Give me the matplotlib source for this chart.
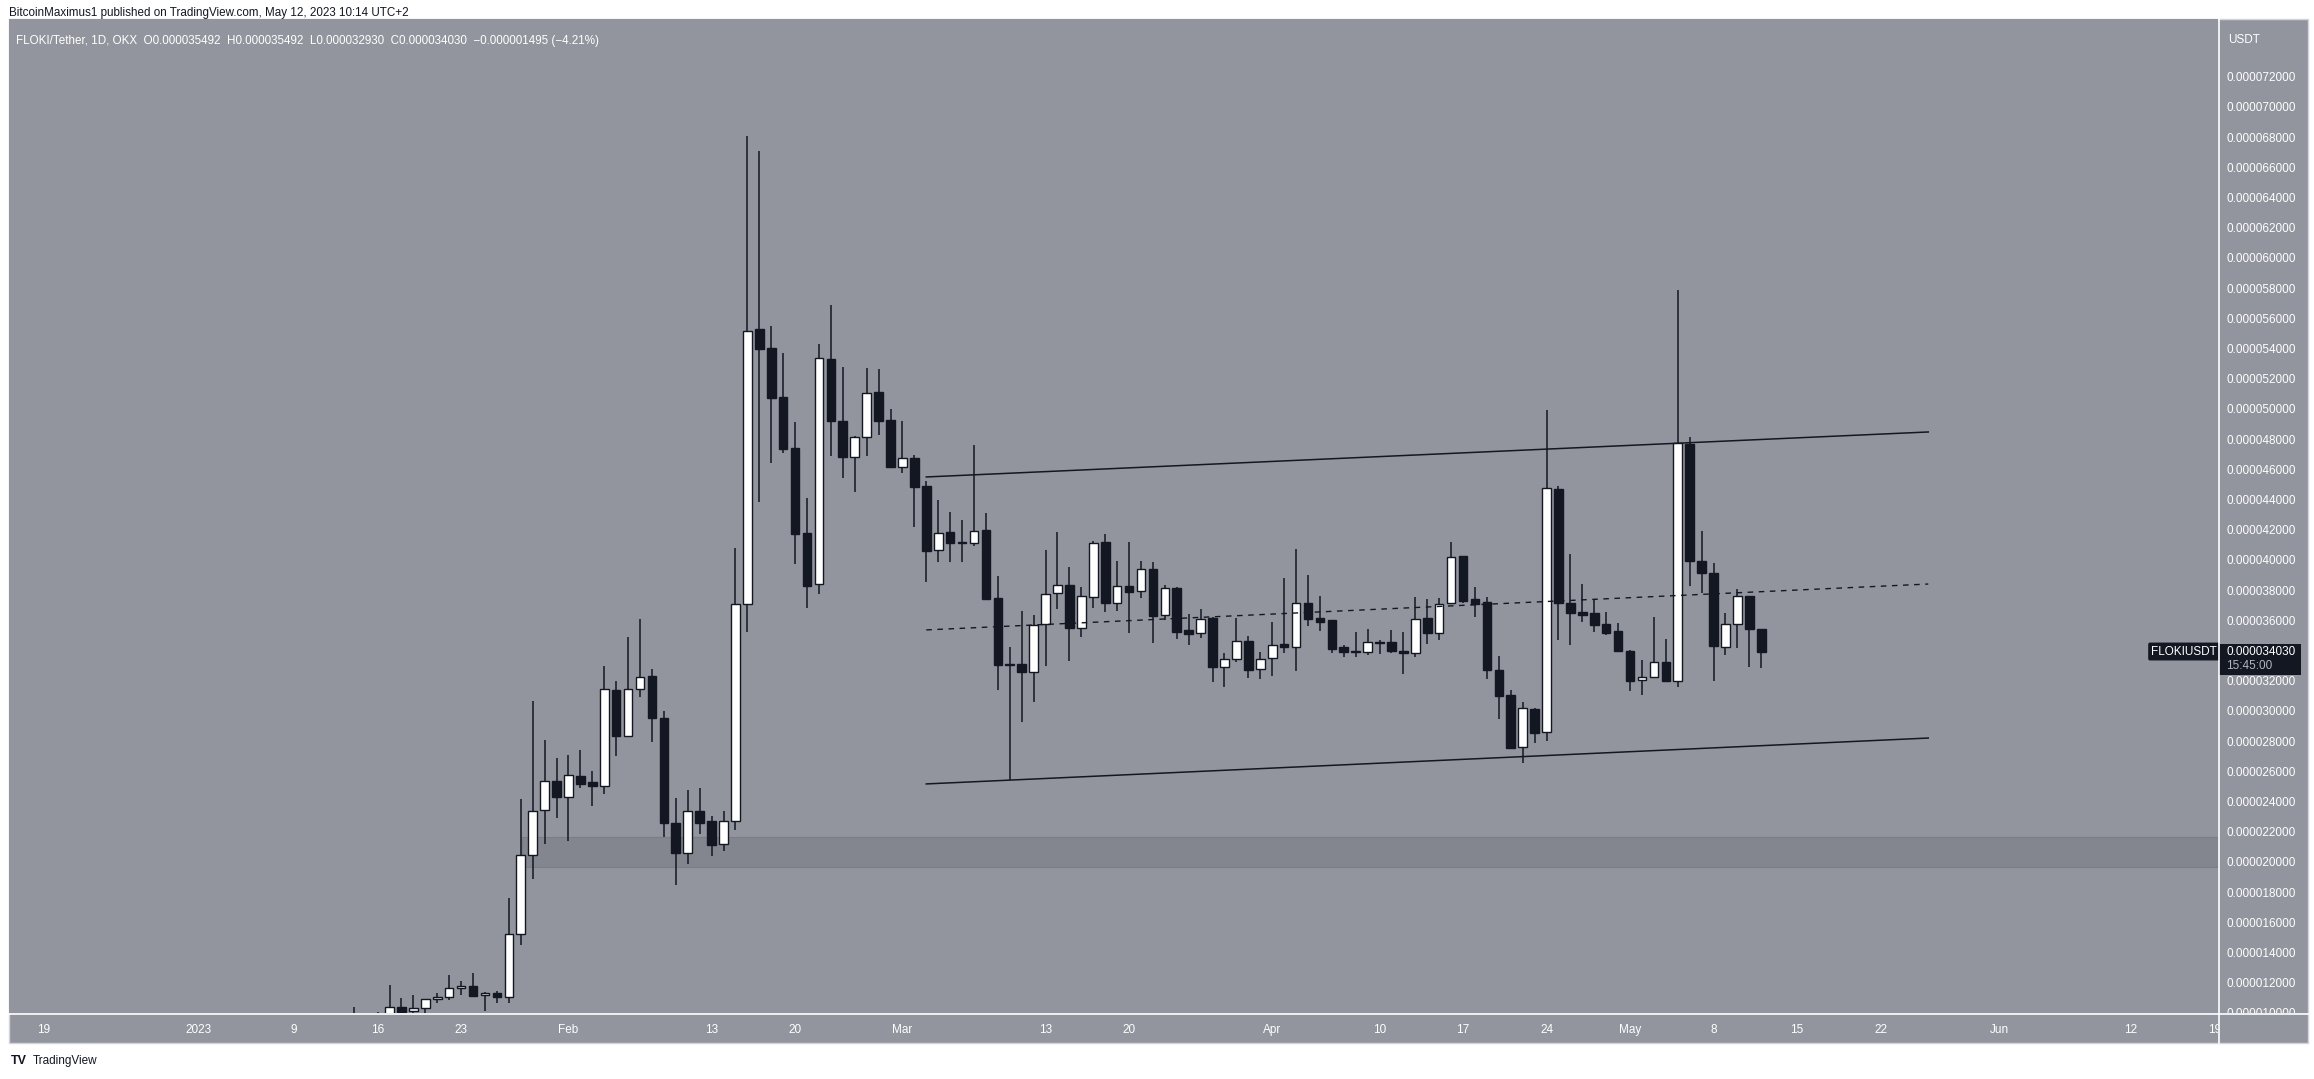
import numpy as np
import pandas as pd
import matplotlib
matplotlib.use("Agg")
import matplotlib.pyplot as plt
import matplotlib.dates as mdates
from matplotlib.patches import Rectangle

# FLOKI/USDT daily candles, prices in units of 1e-6 USDT
opens = [
    # Jan 14 - Jan 31
    9.70, 9.95, 9.96, 9.95, 10.47, 10.23, 10.40, 11.00, 11.13, 11.73, 11.86, 11.27, 11.42, 11.13, 15.30, 20.54, 23.52, 25.44,
    # Feb
    24.42, 25.79, 25.39, 25.15, 31.48, 28.46, 31.53, 32.41, 29.65, 22.66, 20.71, 23.45, 22.81, 21.26, 22.81, 37.16, 55.37, 54.11,
    50.89, 47.51, 41.88, 38.48, 53.40, 49.30, 46.93, 48.21, 51.22, 49.36,
    # Mar
    46.27, 46.85, 44.99, 40.73, 41.93, 41.26, 41.24, 42.06, 37.58, 33.18, 33.18, 32.70, 35.83, 37.89, 38.44, 35.57, 37.66, 41.26,
    37.22, 38.35, 38.02, 39.48, 36.43, 38.21, 35.43, 35.24, 36.27, 33.03, 33.51, 34.71, 32.85,
    # Apr
    33.58, 34.53, 34.31, 37.23, 36.23, 36.10, 34.31, 33.98, 33.98, 34.64, 34.64, 34.07, 33.91, 36.23, 35.28, 37.23, 40.34, 37.51,
    37.29, 32.81, 31.13, 27.69, 30.22, 28.68, 44.79, 37.23, 36.65, 36.56, 35.85, 35.39,
    # May 1 - May 12
    34.07, 32.13, 32.37, 33.32, 32.11, 47.77, 40.01, 39.23, 34.34, 35.85, 37.71, 35.492,
]
highs = [
    10.50, 10.08, 10.14, 11.95, 11.10, 11.29, 11.00, 11.40, 12.60, 12.20, 12.74, 11.50, 11.53, 17.69, 24.26, 30.75, 28.17, 26.98,
    27.18, 27.49, 26.12, 33.07, 32.08, 35.00, 36.20, 32.87, 30.10, 24.31, 24.86, 24.97, 23.14, 23.49, 40.87, 68.17, 67.18, 55.59,
    53.80, 49.21, 44.22, 54.39, 56.98, 52.87, 48.30, 52.80, 52.74, 50.10,
    49.30, 47.05, 45.32, 44.06, 43.27, 42.74, 47.72, 43.19, 39.03, 34.31, 36.72, 36.45, 40.75, 41.95, 39.63, 38.28, 41.37, 41.81,
    40.03, 41.26, 40.03, 39.94, 38.43, 38.32, 36.52, 36.85, 36.34, 33.95, 36.27, 35.06, 34.00,
    35.99, 38.90, 40.82, 39.10, 37.71, 36.10, 34.44, 35.33, 35.53, 34.80, 35.46, 35.33, 37.66, 37.51, 37.58, 41.28, 40.34, 38.30,
    37.64, 33.73, 31.46, 30.67, 30.27, 50.00, 44.99, 40.46, 38.48, 37.44, 36.63, 35.92,
    34.10, 33.47, 36.30, 34.86, 57.98, 48.25, 42.03, 39.90, 36.59, 38.20, 37.71, 35.492,
]
lows = [
    9.40, 9.85, 9.85, 9.85, 9.90, 9.90, 9.96, 10.78, 10.95, 11.30, 11.17, 10.25, 10.73, 10.73, 14.60, 18.97, 21.30, 23.03,
    21.50, 25.01, 23.82, 24.60, 27.13, 28.40, 31.04, 28.06, 21.77, 18.57, 19.96, 21.95, 20.50, 20.84, 22.20, 35.34, 43.95, 46.54,
    47.15, 39.81, 36.93, 37.82, 47.00, 45.54, 44.61, 47.00, 48.37, 46.27,
    45.87, 42.26, 38.66, 39.98, 39.98, 39.98, 41.04, 37.53, 31.48, 25.52, 29.36, 30.71, 33.07, 36.87, 33.43, 35.01, 36.93, 36.67,
    36.74, 35.24, 37.60, 34.62, 36.12, 34.86, 34.46, 34.95, 32.03, 31.70, 33.36, 32.30, 32.23,
    32.43, 33.91, 32.76, 35.74, 35.41, 33.95, 33.65, 33.69, 33.80, 33.85, 33.95, 32.56, 33.69, 34.55, 34.80, 37.20, 37.23, 36.34,
    32.23, 29.58, 27.62, 26.63, 27.99, 28.13, 34.80, 34.49, 36.01, 35.34, 35.13, 34.09,
    31.44, 31.17, 32.30, 32.10, 31.71, 38.38, 37.89, 32.05, 33.77, 34.24, 33.03, 32.93,
]
closes = [
    9.80, 9.97, 9.98, 10.47, 10.18, 10.40, 11.00, 11.13, 11.73, 11.86, 11.24, 11.40, 11.17, 15.30, 20.54, 23.47, 25.44, 24.42,
    25.83, 25.28, 25.15, 31.53, 28.46, 31.53, 32.32, 29.65, 22.70, 20.71, 23.45, 22.70, 21.22, 22.81, 37.16, 55.24, 54.09, 50.84,
    47.46, 41.84, 38.39, 53.44, 49.32, 46.93, 48.21, 51.13, 49.32, 46.27,
    46.83, 44.95, 40.71, 41.85, 41.24, 41.20, 42.03, 37.53, 33.16, 33.17, 32.70, 35.77, 37.82, 38.44, 35.61, 37.71, 41.19, 37.27,
    38.35, 37.99, 39.48, 36.40, 38.21, 35.34, 35.21, 36.16, 33.03, 33.51, 34.71, 32.83, 33.51,
    34.44, 34.31, 37.23, 36.20, 36.01, 34.22, 33.98, 34.00, 34.64, 34.62, 34.09, 33.91, 36.16, 35.28, 37.16, 40.27, 37.40, 37.20,
    32.83, 31.10, 27.66, 30.27, 28.66, 44.84, 37.23, 36.56, 36.47, 35.81, 35.28, 34.09,
    32.10, 32.37, 33.32, 32.10, 47.82, 40.01, 39.23, 34.40, 35.85, 37.71, 35.525, 34.03,
]
dates = pd.date_range("2023-01-14", periods=len(opens), freq="D")

# drawn channel (upper, middle dashed, lower) and support zone
channel_dates = ["2023-03-03", "2023-05-26"]
channel_upper = [45.59, 48.57]
channel_mid = [35.46, 38.50]
channel_lower = [25.26, 28.30]
zone_start = "2023-01-28"
zone_low, zone_high = 19.79, 21.73

price_ticks = list(range(10, 73, 2))
time_ticks = ["2022-12-19", "2023-01-01", "2023-01-09", "2023-01-16", "2023-01-23", "2023-02-01",
              "2023-02-13", "2023-02-20", "2023-03-01", "2023-03-13", "2023-03-20", "2023-04-01",
              "2023-04-10", "2023-04-17", "2023-04-24", "2023-05-01", "2023-05-08", "2023-05-15",
              "2023-05-22", "2023-06-01", "2023-06-12", "2023-06-19"]
time_labels = ["19", "2023", "9", "16", "23", "Feb", "13", "20", "Mar", "13", "20", "Apr",
               "10", "17", "24", "May", "8", "15", "22", "Jun", "12", "19"]

BG = "#93959e"
ZONE = "#84868f"
DARK = "#131722"
FONT = "Liberation Sans"
plt.rcParams["font.family"] = [FONT, "DejaVu Sans"]

W, H = 2314, 1079


def rect(x0, y0, x1, y1):
    # pixel box (top-left origin) -> figure fraction rect
    return [x0 / W, 1 - y1 / H, (x1 - x0) / W, (y1 - y0) / H]


fig = plt.figure(figsize=(W / 100, H / 100), dpi=100, facecolor="white")

# gray chart panel with light outer border (behind all axes)
fig.patches.append(Rectangle((9 / W, 1 - 1043 / H), (2308 - 9) / W, (1043 - 19) / H,
                             transform=fig.transFigure, facecolor=BG, edgecolor="#d1d4dc",
                             lw=1, zorder=-10))

ax = fig.add_axes(rect(9, 19, 2218, 1013))
ax.set_facecolor(BG)
for s in ax.spines.values():
    s.set_visible(False)

x = mdates.date2num(dates)
o = np.array(opens)
h = np.array(highs)
lo = np.array(lows)
c = np.array(closes)
up = c >= o

xmin = mdates.date2num(pd.Timestamp("2023-01-01")) - 15.90
xmax = mdates.date2num(pd.Timestamp("2023-01-01")) + 169.29
ymin, ymax = 10.09, 75.92
ax.set_xlim(xmin, xmax)
ax.set_ylim(ymin, ymax)

# support zone
zx0 = mdates.date2num(pd.Timestamp(zone_start)) + 0.1
ax.add_patch(Rectangle((zx0, zone_low), xmax - zx0, zone_high - zone_low,
                       facecolor=ZONE, edgecolor="#7c7e87", lw=0.8, zorder=1))

# candles
ax.vlines(x, lo, h, color=DARK, lw=1.1, zorder=2)
body_bottom = np.minimum(o, c)
body_height = np.maximum(np.abs(c - o), 0.06)
ax.bar(x, body_height, bottom=body_bottom, width=0.72,
       color=np.where(up, "white", DARK), edgecolor=DARK, lw=1.0, zorder=3)

# channel lines
cx = mdates.date2num(pd.to_datetime(channel_dates))
ax.plot(cx, channel_upper, color=DARK, lw=1.1, zorder=4)
ax.plot(cx, channel_lower, color=DARK, lw=1.1, zorder=4)
ax.plot(cx, channel_mid, color=DARK, lw=1.0, ls=(0, (4, 4)), zorder=4)

ax.set_xticks([])
ax.set_yticks([])

# header inside chart
hdr = (f"FLOKI/Tether, 1D, OKX  O{opens[-1] * 1e-6:.9f}  H{highs[-1] * 1e-6:.9f}  "
       f"L{lows[-1] * 1e-6:.9f}  C{closes[-1] * 1e-6:.9f}  "
       f"\u2212{abs(closes[-1] - closes[-2]) * 1e-6:.9f} "
       f"(\u2212{abs(closes[-1] - closes[-2]) / closes[-2] * 100:.2f}%)")
fig.text(16 / W, 1 - 41 / H, hdr, fontsize=8.4, color="white", va="center", ha="left")

# symbol label at the last price
ax.text(0.9995, closes[-1], "FLOKIUSDT", transform=ax.get_yaxis_transform(),
        ha="right", va="center", fontsize=8.5, color="white", zorder=6,
        bbox=dict(boxstyle="round,pad=0.25,rounding_size=0.15", fc=DARK, ec="none"))

# price scale
pax = fig.add_axes(rect(2219, 19, 2308, 1013))
pax.patch.set_alpha(0)
pax.set_xlim(0, 1)
pax.set_ylim(ymin, ymax)
pax.axis("off")
for v in price_ticks:
    pax.text(0.08, v, f"{v * 1e-6:.9f}", ha="left", va="center", fontsize=8.5,
             color="white", clip_on=True)
pax.add_patch(Rectangle((0.0, closes[-1] - 1.55), 0.92, 2.05, facecolor=DARK,
                        edgecolor="none", zorder=5))
pax.text(0.08, closes[-1], f"{closes[-1] * 1e-6:.9f}", ha="left", va="center",
         fontsize=8.5, color="white", zorder=6)
pax.text(0.08, closes[-1] - 0.95, "15:45:00", ha="left", va="center",
         fontsize=8.5, color="#b2b5be", zorder=6)
fig.text(2228 / W, 1 - 40 / H, "USDT", fontsize=8.5, color="white", va="center", ha="left")

# time scale
tax = fig.add_axes(rect(9, 1014, 2218, 1043))
tax.patch.set_alpha(0)
tax.set_xlim(xmin, xmax)
tax.set_ylim(0, 1)
tax.axis("off")
for d, lab in zip(time_ticks, time_labels):
    tax.text(mdates.date2num(pd.Timestamp(d)), 0.45, lab, ha="center", va="center",
             fontsize=8.5, color="white", clip_on=True)

# separators between chart and scales
fig.add_artist(plt.Line2D([2218.5 / W, 2218.5 / W], [1 - 1043 / H, 1 - 19 / H],
                          transform=fig.transFigure, color="white", lw=1.2))
fig.add_artist(plt.Line2D([9 / W, 2308 / W], [1 - 1013.5 / H, 1 - 1013.5 / H],
                          transform=fig.transFigure, color="white", lw=1.2))

# page texts
fig.text(9 / W, 1 - 13 / H,
         "BitcoinMaximus1 published on TradingView.com, May 12, 2023 10:14 UTC+2",
         fontsize=8.4, color=DARK, va="center", ha="left")
fig.text(11 / W, 1 - 1061 / H, "TV", fontsize=9, fontweight="bold", color=DARK,
         va="center", ha="left")
fig.text(33 / W, 1 - 1061 / H, "TradingView", fontsize=8.5, color=DARK,
         va="center", ha="left")

fig.savefig("out.png", dpi=100, facecolor="white")
